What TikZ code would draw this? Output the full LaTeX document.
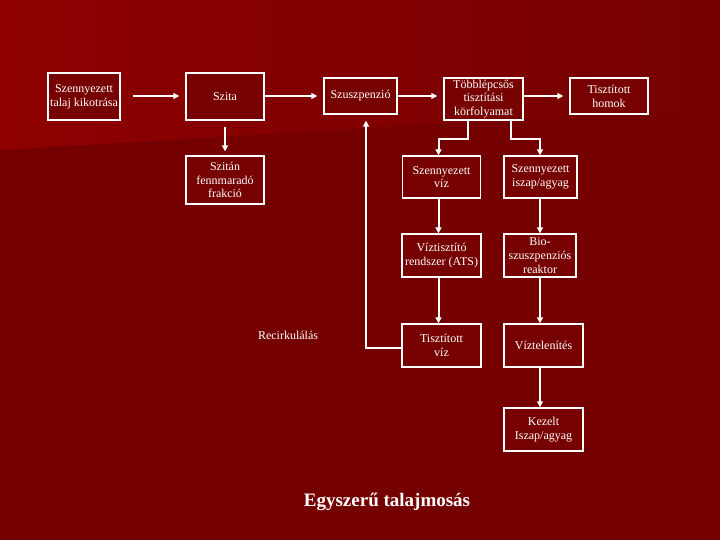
\documentclass[tikz,border=0pt]{standalone}
\usepackage{fontspec}
\setmainfont{Liberation Serif}
\usetikzlibrary{arrows.meta}
\definecolor{bgdark}{HTML}{750000}
\definecolor{bglight}{HTML}{8E0000}
\definecolor{boxfill}{HTML}{770000}
\begin{document}
\begin{tikzpicture}[x=1pt,y=-1pt,
  box/.style={draw=white, line width=1.3pt, fill=boxfill, text=white, align=center, inner sep=0pt,
    font=\fontsize{12}{13.8}\selectfont},
  lbl/.style={text=white, font=\fontsize{12}{13.8}\selectfont},
  flow/.style={draw=white, line width=2pt, -{Triangle[length=6pt,width=6pt]}}]
\useasboundingbox (0,0) rectangle (720,540);
\fill[bgdark] (0,0) rectangle (720,540);
\shade[left color=bglight, right color=bgdark] (0,0) -- (720,0) -- (720,107) -- (0,150) -- cycle;

\coordinate (colA) at (438.5,0);
\coordinate (colB) at (540,0);
\coordinate (colR) at (366,0);
\coordinate (rowA) at (0,96);

\node[box, minimum width=72pt, minimum height=47pt] (b1) at (84,96.5) {Szennyezett\\talaj kikotrása};
\node[box, minimum width=78pt, minimum height=47pt] (szita) at (225,96.5) {Szita};
\node[box, minimum width=78pt, minimum height=48pt] (frak) at (225,180) {Szitán\\fennmaradó\\frakció};
\node[box, minimum width=73pt, minimum height=36pt] (szusz) at (360.5,96) {Szuszpenzió};
\node[box, minimum width=79pt, minimum height=42pt] (tobb) at (483.5,99) {Többlépcsős\\tisztítási\\körfolyamat};
\node[box, minimum width=78pt, minimum height=36pt] (homok) at (609,96) {Tisztított\\homok};
\node[box, minimum width=78pt, minimum height=42pt] (viz) at (441.5,177) {Szennyezett\\víz};
\node[box, minimum width=73pt, minimum height=42pt] (iszap) at (540.5,177) {Szennyezett\\iszap/agyag};
\node[box, minimum width=79pt, minimum height=43pt] (ats) at (441.5,255.5) {Víztisztító\\rendszer (ATS)};
\node[box, minimum width=72pt, minimum height=43pt] (bio) at (540,255.5) {Bio-\\szuszpenziós\\reaktor};
\node[box, minimum width=79pt, minimum height=43pt] (tviz) at (441.5,345.5) {Tisztított\\víz};
\node[box, minimum width=79pt, minimum height=43pt] (viztel) at (543.5,345.5) {Víztelenítés};
\node[box, minimum width=79pt, minimum height=43pt] (kezelt) at (543.5,429.5) {Kezelt\\Iszap/agyag};

\node[lbl] (rec) at (288,335) {Recirkulálás};
\node[text=white, font=\bfseries\fontsize{19}{22}\selectfont] (title) at (387,502) {Egyszerű talajmosás};

\draw[flow] ([xshift=12pt]b1.east |- rowA) -- ([xshift=-6pt]szita.west |- rowA);
\draw[flow] (szita.east |- rowA) -- ([xshift=-6pt]szusz.west |- rowA);
\draw[flow] (szusz.east |- rowA) -- ([xshift=-6pt]tobb.west |- rowA);
\draw[flow] (tobb.east |- rowA) -- ([xshift=-6pt]homok.west |- rowA);
\draw[flow] ([yshift=-6pt]szita.south) -- ([yshift=4pt]frak.north);
\draw[flow] ([xshift=-15.5pt]tobb.south) -- ++(0,18) -| (viz.north -| colA);
\draw[flow] ([xshift=27pt]tobb.south) -- ++(0,18) -| (iszap.north -| colB);
\draw[flow] (viz.south -| colA) -- (ats.north -| colA);
\draw[flow] (ats.south -| colA) -- (tviz.north -| colA);
\draw[flow] (iszap.south -| colB) -- (bio.north -| colB);
\draw[flow] (bio.south -| colB) -- (viztel.north -| colB);
\draw[flow] (viztel.south -| colB) -- (kezelt.north -| colB);
\draw[flow] ([yshift=-2.5pt]tviz.west) -| ([yshift=-6pt]szusz.south -| colR);
\end{tikzpicture}
\end{document}
